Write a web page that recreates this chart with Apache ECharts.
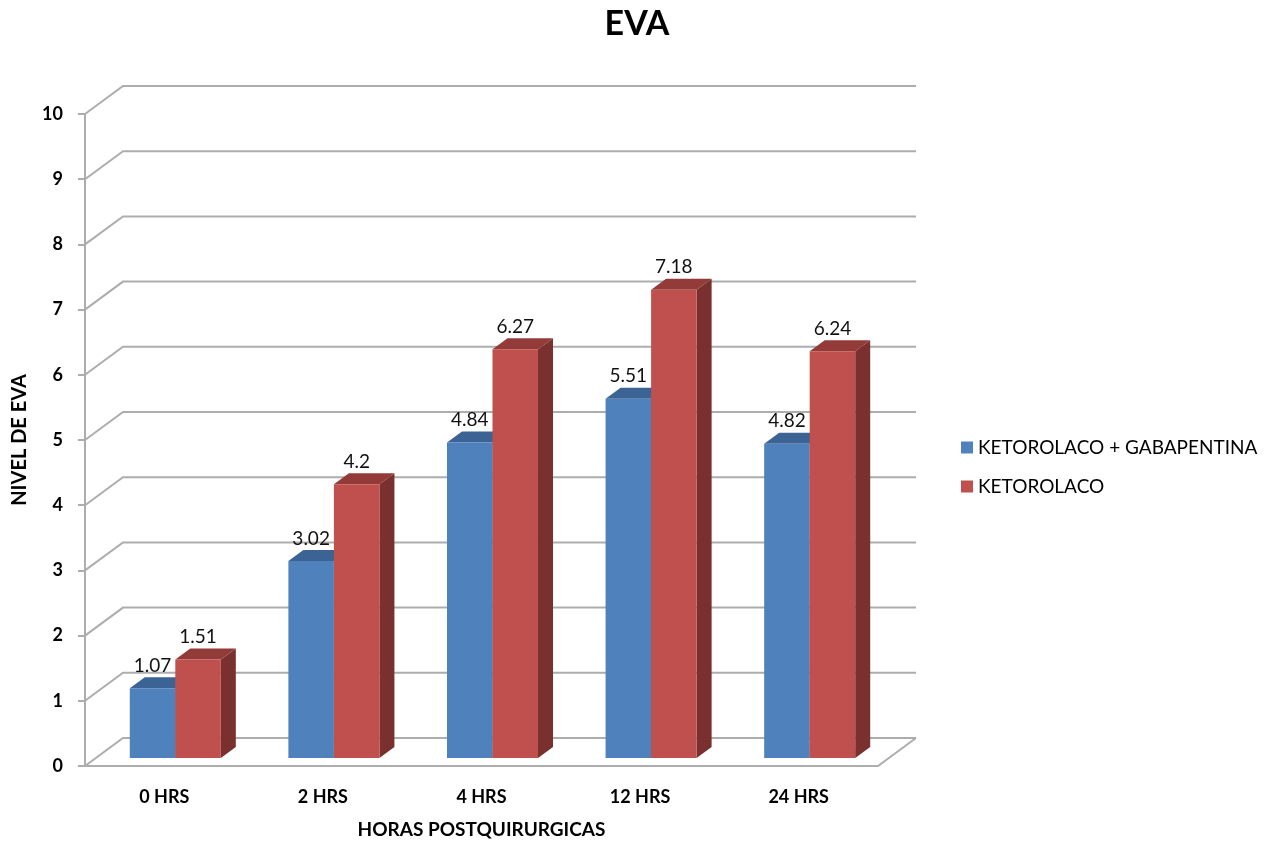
<!DOCTYPE html>
<html>
<head>
<meta charset="utf-8">
<script src="https://cdn.jsdelivr.net/npm/echarts@6/dist/echarts.min.js"></script>
<style>
  html, body { margin: 0; padding: 0; background: #fff; }
  #chart { width: 1274px; height: 844px; }
</style>
</head>
<body>
<div id="chart"></div>
<script>
// Pain score (EVA) by post-operative hour, two treatment groups
const categories = ['0 HRS', '2 HRS', '4 HRS', '12 HRS', '24 HRS'];
const seriesNames = ['KETOROLACO + GABAPENTINA', 'KETOROLACO'];
const gabapentina = [1.07, 3.02, 4.84, 5.51, 4.82];
const ketorolaco = [1.51, 4.2, 6.27, 7.18, 6.24];
const yTicks = [0, 1, 2, 3, 4, 5, 6, 7, 8, 9, 10];

const FONT = 'Lato, "Open Sans", sans-serif';
const GRID_COLOR = '#ADADAD';

// 3D pseudo-perspective offsets (pixels)
const WALL = [38, -28];     // back wall relative to front plane
const BAR_SHIFT = [11, -8]; // bar front face relative to front plane
const BAR_DEPTH = [15, -11];// bar thickness
const BAR_FRAC = 0.287;     // bar width as fraction of the category band

const palettes = [
  { front: '#4F81BD', top: '#3B6394', side: '#36597F' },
  { front: '#C0504D', top: '#933B39', side: '#7A302E' }
];

function wallItem(params, api) {
  const cs = params.coordSys;
  const v = api.value(0);
  const y = api.coord([0, v])[1];
  const x0 = cs.x, x1 = cs.x + cs.width;
  const children = [{
    type: 'polyline',
    shape: { points: [[x0, y], [x0 + WALL[0], y + WALL[1]], [x1 + WALL[0], y + WALL[1]]] },
    style: { stroke: GRID_COLOR, lineWidth: 2, fill: null }
  }];
  if (v === 0) {
    children.push({
      type: 'polyline',
      shape: { points: [[x0, y], [x1, y], [x1 + WALL[0], y + WALL[1]]] },
      style: { stroke: GRID_COLOR, lineWidth: 2, fill: null }
    });
  }
  return { type: 'group', children: children };
}

function makeBarItem(seriesIdx) {
  const pal = palettes[seriesIdx];
  return function (params, api) {
    const idx = api.value(0);
    const val = api.value(1);
    const base = api.coord([idx, 0]);
    const topY = api.coord([idx, val])[1] + BAR_SHIFT[1];
    const baseY = base[1] + BAR_SHIFT[1];
    const band = api.size([1, 0])[0];
    const w = band * BAR_FRAC;
    const cx = base[0] + BAR_SHIFT[0];
    const left = seriesIdx === 0 ? cx - w : cx;
    const right = left + w;
    const dx = BAR_DEPTH[0], dy = BAR_DEPTH[1];
    return {
      type: 'group',
      children: [
        {
          type: 'polygon',
          shape: { points: [[right, topY], [right + dx, topY + dy], [right + dx, baseY + dy], [right, baseY]] },
          style: { fill: pal.side }
        },
        {
          type: 'polygon',
          shape: { points: [[left, topY], [left + dx, topY + dy], [right + dx, topY + dy], [right, topY]] },
          style: { fill: pal.top }
        },
        {
          type: 'rect',
          shape: { x: left, y: topY, width: w, height: baseY - topY },
          style: { fill: pal.front }
        },
        {
          type: 'text',
          x: (left + right) / 2,
          y: topY + dy - 2,
          style: {
            text: String(val),
            fill: '#111',
            font: '19px ' + FONT,
            textAlign: 'center',
            textVerticalAlign: 'bottom'
          }
        }
      ]
    };
  };
}

const chart = echarts.init(document.getElementById('chart'));
chart.setOption({
  animation: false,
  title: {
    text: 'EVA',
    left: 'center',
    top: 2,
    textStyle: { fontFamily: FONT, fontSize: 34, fontWeight: 'bold', color: '#000' }
  },
  legend: {
    orient: 'vertical',
    left: 956,
    top: 433,
    itemWidth: 12,
    itemHeight: 12,
    itemGap: 20,
    icon: 'rect',
    data: seriesNames,
    textStyle: { fontFamily: FONT, fontSize: 19, color: '#000' }
  },
  grid: { left: 85, width: 793, top: 114, height: 656 },
  xAxis: {
    type: 'category',
    data: categories,
    name: 'HORAS POSTQUIRURGICAS',
    nameLocation: 'middle',
    nameGap: 54,
    nameTextStyle: { fontFamily: FONT, fontSize: 19, fontWeight: 'bold', color: '#000' },
    axisLine: { show: false },
    axisTick: { show: false },
    axisLabel: { margin: 22, fontFamily: FONT, fontSize: 18, fontWeight: 'bold', color: '#000' }
  },
  yAxis: {
    type: 'value',
    min: 0,
    max: 10,
    interval: 1,
    name: 'NIVEL DE EVA',
    nameLocation: 'middle',
    nameGap: 55,
    nameTextStyle: { fontFamily: FONT, fontSize: 20, fontWeight: 'bold', color: '#000' },
    axisLine: { show: true, lineStyle: { color: GRID_COLOR, width: 2 } },
    axisTick: { show: true, length: 7, lineStyle: { color: GRID_COLOR, width: 2 } },
    axisLabel: { margin: 22, fontFamily: FONT, fontSize: 18, fontWeight: 'bold', color: '#000' },
    splitLine: { show: false }
  },
  series: [
    {
      type: 'custom',
      name: 'walls',
      renderItem: wallItem,
      data: yTicks.map(function (v) { return [v]; }),
      encode: { y: 0 },
      clip: false,
      silent: true,
      z: 1
    },
    {
      type: 'custom',
      name: seriesNames[0],
      renderItem: makeBarItem(0),
      data: gabapentina.map(function (v, i) { return [i, v]; }),
      encode: { x: 0, y: 1 },
      itemStyle: { color: palettes[0].front },
      clip: false,
      z: 3
    },
    {
      type: 'custom',
      name: seriesNames[1],
      renderItem: makeBarItem(1),
      data: ketorolaco.map(function (v, i) { return [i, v]; }),
      encode: { x: 0, y: 1 },
      itemStyle: { color: palettes[1].front },
      clip: false,
      z: 4
    }
  ]
});
</script>
</body>
</html>
